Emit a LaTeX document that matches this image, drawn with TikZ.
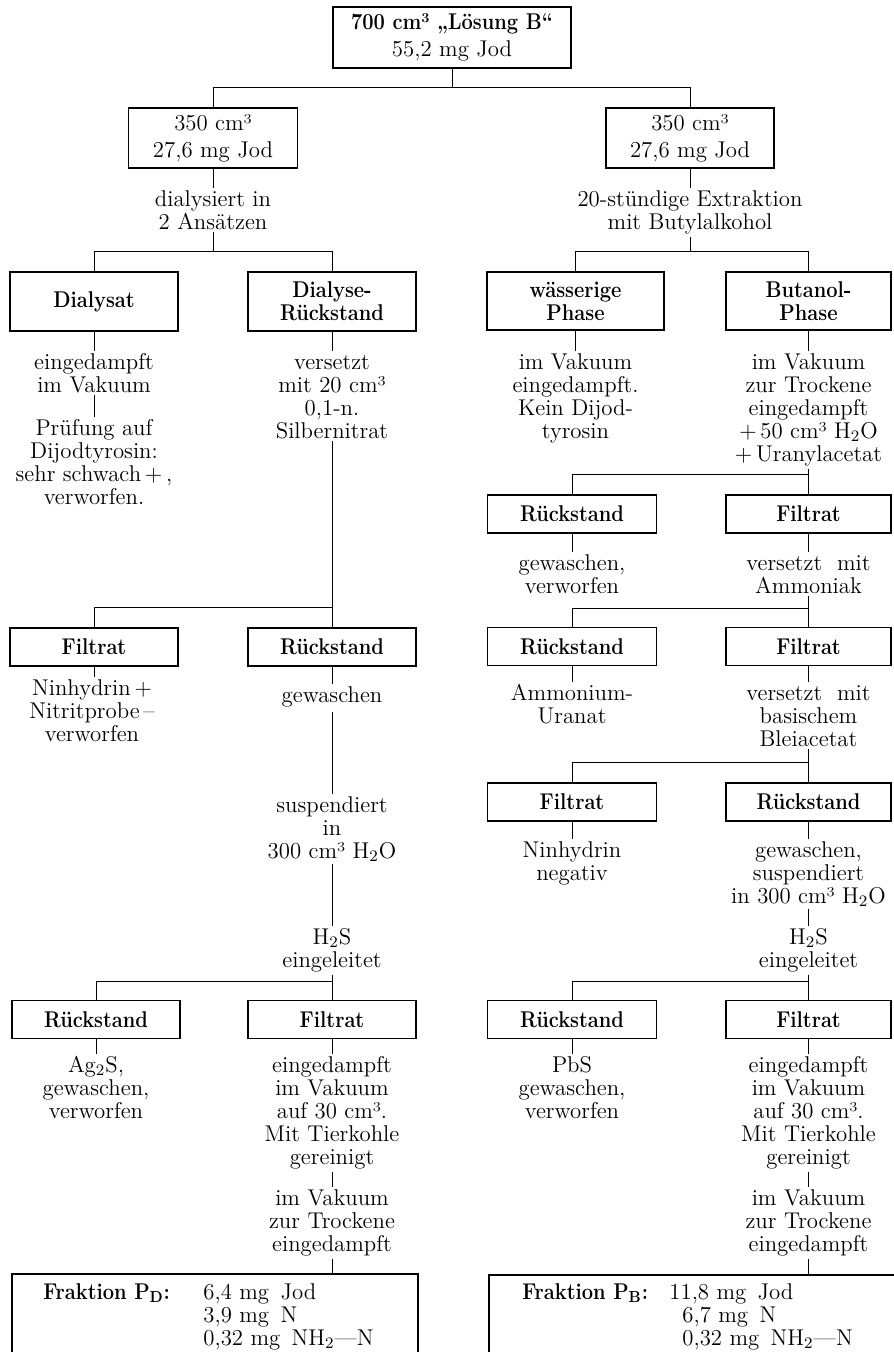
\documentclass[tikz,border=0pt]{standalone}
\usepackage{graphicx}
\newcommand{\myfnt}{\fontsize{11.4}{11.5}\selectfont\lineskiplimit=-100pt\relax}
\newcommand{\mybf}[1]{\scalebox{0.88}[1]{\bfseries #1}}
\begin{document}
\begin{tikzpicture}[x=0.5pt,y=-0.5pt,
  bx/.style={draw,line width=0.8pt,inner sep=0pt,align=center,font=\myfnt},
  sb/.style={bx,minimum height=19pt},
  tx/.style={inner sep=1pt,align=center,font=\myfnt,anchor=north},
  cn/.style={line width=0.5pt},
  vl/.style={anchor=base west,inner sep=0pt,font=\myfnt}]
\useasboundingbox (0,0) rectangle (893,1352);

% ---------- boxes ----------
\node[bx,minimum width=119pt,minimum height=30.5pt] (top) at (452,37.5)
  {\mybf{700 cm³ „Lösung B“}\\[2pt]55,2 mg Jod};
\node[bx,minimum width=84.5pt,minimum height=30pt] (l350) at (213,138)
  {350 cm³\\[2pt]27,6 mg Jod};
\node[bx,minimum width=84pt,minimum height=30pt] (r350) at (690,138)
  {350 cm³\\[2pt]27,6 mg Jod};

\node[bx,minimum width=84pt,minimum height=29.5pt] (dialysat) at (94,301.5) {\mybf{Dialysat}};
\node[bx,minimum width=84pt,minimum height=29.5pt] (dialR) at (332,301.5) {\mybf{Dialyse-}\\\mybf{Rückstand}};
\node[bx,minimum width=88.5pt,minimum height=29pt] (wass) at (575.5,301) {\mybf{wässerige}\\\mybf{Phase}};
\node[bx,minimum width=82.5pt,minimum height=29pt] (buta) at (808.5,301) {\mybf{Butanol-}\\\mybf{Phase}};

\node[sb,minimum width=84.5pt] (rR1) at (572,514) {\mybf{Rückstand}};
\node[sb,minimum width=82.5pt] (rF1) at (808.5,514) {\mybf{Filtrat}};
\node[sb,minimum width=84.5pt] (rR2) at (572,646.5) {\mybf{Rückstand}};
\node[sb,minimum width=82.5pt] (rF2) at (808.5,646.5) {\mybf{Filtrat}};
\node[sb,minimum width=84.5pt] (rF3) at (572,802) {\mybf{Filtrat}};
\node[sb,minimum width=82.5pt] (rR3) at (808.5,802) {\mybf{Rückstand}};
\node[sb,minimum width=84.5pt] (rR4) at (572,1019.5) {\mybf{Rückstand}};
\node[sb,minimum width=82.5pt] (rF4) at (808.5,1019.5) {\mybf{Filtrat}};

\node[sb,minimum width=84pt] (lF1) at (94,647) {\mybf{Filtrat}};
\node[sb,minimum width=84pt] (lR1) at (332,647) {\mybf{Rückstand}};
\node[sb,minimum width=84pt] (lR2) at (96,1019.5) {\mybf{Rückstand}};
\node[sb,minimum width=84pt] (lF2) at (332,1019.5) {\mybf{Filtrat}};

\node[draw,line width=0.8pt,inner sep=0pt,minimum width=203pt,minimum height=80pt] (fracD) at (215,1354) {};
\node[draw,line width=0.8pt,inner sep=0pt,minimum width=235pt,minimum height=80pt] (fracB) at (724,1355) {};

% ---------- texts ----------
\node[tx] (t1) at (213,188) {\strut dialysiert in\\2 Ansätzen};
\node[tx] (t2) at (690,188) {\strut 20-stündige Extraktion\\mit Butylalkohol};
\node[tx] (ta) at (94,351) {\strut eingedampft\\im Vakuum};
\node[tx] (tb) at (94,417) {\strut Prüfung auf\\Dijodtyrosin:\\sehr schwach\,+\,,\\verworfen.};
\node[tx] (tc) at (332,351) {\strut versetzt\\mit 20 cm³\\0,1-n.\\Silbernitrat};
\node[tx] (td) at (92,677) {\strut Ninhydrin\,+\\Nitritprobe\,–\\verworfen};
\node[tx] (te) at (332,684) {\strut gewaschen};
\node[tx] (tf) at (332,794) {\strut suspendiert\\in\\300 cm³ H\textsubscript{2}O};
\node[tx] (tg) at (332,926) {\strut H\textsubscript{2}S\\eingeleitet};
\node[tx] (th) at (96,1054) {\strut Ag\textsubscript{2}S,\\gewaschen,\\verworfen};
\node[tx] (ti) at (332,1054) {\strut eingedampft\\im Vakuum\\auf 30 cm³.\\Mit Tierkohle\\gereinigt};
\node[tx] (tj) at (332,1187) {\strut im Vakuum\\zur Trockene\\eingedampft};

\node[tx] (ra) at (575.5,351) {\strut im Vakuum\\eingedampft.\\Kein Dijod-\\tyrosin};
\node[tx] (rb) at (808.5,351) {\strut im Vakuum\\zur Trockene\\eingedampft\\+\,50 cm³ H\textsubscript{2}O\\+\,Uranylacetat};
\node[tx] (rc) at (572,552) {\strut gewaschen,\\verworfen};
\node[tx] (rd) at (808.5,552) {\strut versetzt\ \ mit\\Ammoniak};
\node[tx] (re) at (572,682) {\strut Ammonium-\\Uranat};
\node[tx] (rf) at (808.5,682) {\strut versetzt\ \ mit\\basischem\\Bleiacetat};
\node[tx] (rg) at (572,839) {\strut Ninhydrin\\negativ};
\node[tx] (rh) at (808.5,839) {\strut gewaschen,\\suspendiert\\in 300 cm³ H\textsubscript{2}O};
\node[tx] (ri) at (808.5,926) {\strut H\textsubscript{2}S\\eingeleitet};
\node[tx] (rj) at (572,1054) {\strut PbS\\gewaschen,\\verworfen};
\node[tx] (rk) at (808.5,1054) {\strut eingedampft\\im Vakuum\\auf 30 cm³.\\Mit Tierkohle\\gereinigt};
\node[tx] (rl) at (808.5,1187) {\strut im Vakuum\\zur Trockene\\eingedampft};

% fraction texts
\node[vl] (fdl) at (43,1299) {\mybf{Fraktion P\textsubscript{D}:}};
\node[vl] (fd1) at (203,1299) {6,4 mg\enspace Jod};
\node[vl] (fd2) at (203,1322) {3,9 mg\enspace N};
\node[vl] (fd3) at (203,1345) {0,32 mg\enspace NH\textsubscript{2}—N};
\node[vl] (fbl) at (522,1299) {\mybf{Fraktion P\textsubscript{B}:}};
\node[vl] (fb1) at (669,1299) {11,8 mg\enspace Jod};
\node[vl] (fb2) at (682,1322) {6,7 mg\enspace N};
\node[vl] (fb3) at (682,1345) {0,32 mg\enspace NH\textsubscript{2}—N};

% ---------- connectors ----------
\coordinate (j0) at (452,88);
\draw[cn] (top.south) -- (j0) -| (l350.north);
\draw[cn] (j0) -| (r350.north);
\draw[cn] (l350.south) -- (l350.south |- t1.north);
\draw[cn] (r350.south) -- (r350.south |- t2.north);
\coordinate (j1) at (213,252);
\draw[cn] (t1.south) -- (j1) -| (dialysat.north);
\draw[cn] (j1) -| (dialR.north);
\coordinate (j2) at (690,252);
\draw[cn] (t2.south) -- (j2) -| (wass.north);
\draw[cn] (j2) -| (buta.north);

% left branch
\draw[cn] (dialysat.south) -- (dialysat.south |- ta.north);
\draw[cn] (ta.south) -- (ta.south |- tb.north);
\draw[cn] (dialR.south) -- (dialR.south |- tc.north);
\coordinate (j3) at (332,607);
\draw[cn] (tc.south) -- (lR1.north);
\draw[cn] (j3) -| (lF1.north);
\draw[cn] (lF1.south) -- (lF1.south |- td.north);
\draw[cn] (lR1.south) -- (lR1.south |- te.north);
\draw[cn] (te.south) -- (te.south |- tf.north);
\draw[cn] (tf.south) -- (tf.south |- tg.north);
\coordinate (j4) at (332,981);
\draw[cn] (tg.south) -- (lF2.north);
\draw[cn] (j4) -| (lR2.north);
\draw[cn] (lR2.south) -- (lR2.south |- th.north);
\draw[cn] (lF2.south) -- (lF2.south |- ti.north);
\draw[cn] (ti.south) -- (ti.south |- tj.north);
\draw[cn] (tj.south) -- (tj.south |- fracD.north);

% right branch
\draw[cn] (wass.south) -- (wass.south |- ra.north);
\draw[cn] (buta.south) -- (buta.south |- rb.north);
\coordinate (j5) at (808.5,474);
\draw[cn] (rb.south) -- (rF1.north);
\draw[cn] (j5) -| (rR1.north);
\draw[cn] (rR1.south) -- (rR1.south |- rc.north);
\draw[cn] (rF1.south) -- (rF1.south |- rd.north);
\coordinate (j6) at (808.5,608);
\draw[cn] (rd.south) -- (rF2.north);
\draw[cn] (j6) -| (rR2.north);
\draw[cn] (rR2.south) -- (rR2.south |- re.north);
\draw[cn] (rF2.south) -- (rF2.south |- rf.north);
\coordinate (j7) at (808.5,762);
\draw[cn] (rf.south) -- (rR3.north);
\draw[cn] (j7) -| (rF3.north);
\draw[cn] (rF3.south) -- (rF3.south |- rg.north);
\draw[cn] (rR3.south) -- (rR3.south |- rh.north);
\draw[cn] (rh.south) -- (rh.south |- ri.north);
\coordinate (j8) at (808.5,981);
\draw[cn] (ri.south) -- (rF4.north);
\draw[cn] (j8) -| (rR4.north);
\draw[cn] (rR4.south) -- (rR4.south |- rj.north);
\draw[cn] (rF4.south) -- (rF4.south |- rk.north);
\draw[cn] (rk.south) -- (rk.south |- rl.north);
\draw[cn] (rl.south) -- (rl.south |- fracB.north);
\end{tikzpicture}
\end{document}
